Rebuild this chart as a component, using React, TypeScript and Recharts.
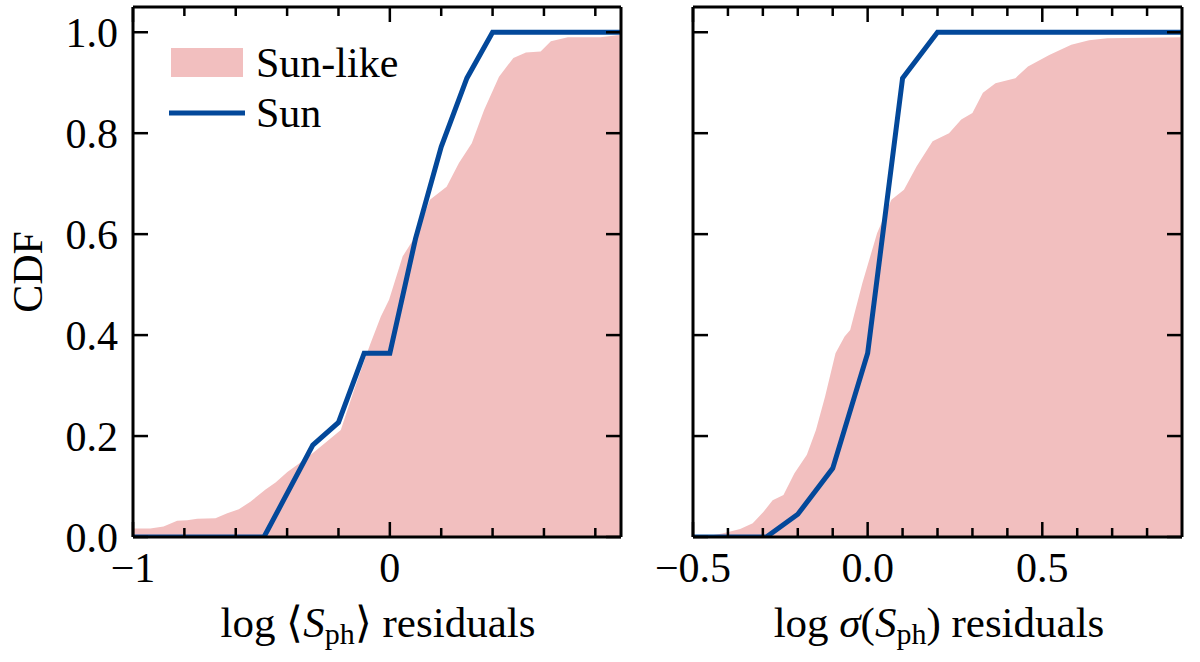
import React from 'react'
import { ComposedChart, Area, Line, XAxis, YAxis, ReferenceLine } from 'recharts'

const FONT = "'Liberation Serif', 'Times New Roman', serif"
const PINK = '#f2bfbf'
const BLUE = '#03489a'
const FS = 42

// left panel: log <S_ph> residuals
const likeMeanX = [-1, -0.933, -0.881, -0.828, -0.789, -0.75, -0.679, -0.633, -0.588, -0.543, -0.484, -0.445, -0.399, -0.36, -0.308, -0.257, -0.191, -0.14, -0.094, -0.075, -0.035, -0.003, 0.05, 0.107, 0.156, 0.221, 0.269, 0.319, 0.367, 0.425, 0.481, 0.53, 0.587, 0.627, 0.693, 0.82, 0.9]
const likeMeanY = [0.017, 0.017, 0.021, 0.032, 0.033, 0.036, 0.037, 0.047, 0.055, 0.07, 0.094, 0.108, 0.129, 0.143, 0.163, 0.184, 0.212, 0.29, 0.357, 0.384, 0.437, 0.47, 0.556, 0.602, 0.668, 0.694, 0.741, 0.78, 0.846, 0.912, 0.949, 0.96, 0.962, 0.982, 0.99, 0.99, 0.995]
const sunMeanX = [-1, -0.49, -0.3, -0.2, -0.1, 0, 0.1, 0.2, 0.3, 0.4, 0.9]
const sunMeanY = [0, 0, 0.182, 0.227, 0.364, 0.364, 0.591, 0.773, 0.909, 1, 1]

// right panel: log sigma(S_ph) residuals
const likeSigX = [-0.5, -0.45, -0.416, -0.365, -0.329, -0.298, -0.272, -0.241, -0.21, -0.174, -0.148, -0.122, -0.092, -0.066, -0.05, -0.015, 0.027, 0.068, 0.104, 0.14, 0.186, 0.233, 0.268, 0.3, 0.33, 0.366, 0.423, 0.459, 0.52, 0.583, 0.634, 0.686, 0.9]
const likeSigY = [0, 0.003, 0.007, 0.016, 0.027, 0.05, 0.073, 0.083, 0.126, 0.163, 0.212, 0.278, 0.364, 0.397, 0.41, 0.503, 0.602, 0.668, 0.688, 0.734, 0.784, 0.8, 0.827, 0.84, 0.88, 0.899, 0.909, 0.932, 0.955, 0.975, 0.984, 0.988, 0.99]
const sunSigX = [-0.5, -0.29, -0.2, -0.1, 0, 0.1, 0.2, 0.9]
const sunSigY = [0, 0, 0.045, 0.136, 0.364, 0.909, 1, 1]

const yTicks = [0, 0.2, 0.4, 0.6, 0.8, 1.0]
const yLabels = ['0.0', '0.2', '0.4', '0.6', '0.8', '1.0']
const Y_MAX = 1.05

const meanTicks = [-1, -0.8, -0.6, -0.4, -0.2, 0, 0.2, 0.4, 0.6, 0.8]
const meanMajors = [-1, 0]
const meanLabels = ['−1', '0']

const sigTicks = [-0.5, -0.4, -0.3, -0.2, -0.1, 0, 0.1, 0.2, 0.3, 0.4, 0.5, 0.6, 0.7, 0.8]
const sigMajors = [-0.5, 0, 0.5]
const sigLabels = ['−0.5', '0.0', '0.5']

const toPts = (xs: number[], ys: number[]) => xs.map((x, i) => ({ x, y: ys[i] }))

// plot area is 530px tall for 1.05 of CDF; tick lengths in px
const PX = Y_MAX / 530
const MAJOR = 15
const MINOR = 9

function makeXTick(majors: number[], labels: string[]) {
  return (props: any) => {
    const { x, y, payload } = props
    const mi = majors.indexOf(payload.value)
    const len = mi >= 0 ? MAJOR : MINOR
    return (
      <g>
        <line x1={x} y1={y} x2={x} y2={y - len} stroke="#000" strokeWidth={2.5} />
        {mi >= 0 && (
          <text x={x} y={y + 45} textAnchor="middle" fontFamily={FONT} fontSize={FS} fill="#000">{labels[mi]}</text>
        )}
      </g>
    )
  }
}

function makeYTick(side: 'left' | 'right', labels?: string[]) {
  return (props: any) => {
    const { x, y, payload } = props
    const i = yTicks.indexOf(payload.value)
    const x2 = side === 'left' ? x + MAJOR : x - MAJOR
    return (
      <g>
        <line x1={x} y1={y} x2={x2} y2={y} stroke="#000" strokeWidth={2.5} />
        {labels && i >= 0 && (
          <text x={x - 15} y={y} dy="0.35em" textAnchor="end" fontFamily={FONT} fontSize={FS} fill="#000">{labels[i]}</text>
        )}
      </g>
    )
  }
}

const frame = { stroke: '#000', strokeWidth: 3 }

interface PanelProps {
  like: { x: number; y: number }[]
  sun: { x: number; y: number }[]
  domain: [number, number]
  ticks: number[]
  majors: number[]
  labels: string[]
  showY: boolean
  width: number
  margin: { top: number; right: number; bottom: number; left: number }
}

function Panel({ like, sun, domain, ticks, majors, labels, showY, width, margin }: PanelProps) {
  return (
    <ComposedChart width={width} height={662} margin={margin}>
      <Area xAxisId="b" yAxisId="l" data={like} dataKey="y" type="linear" fill={PINK} fillOpacity={1} stroke="none" isAnimationActive={false} />
      <Line xAxisId="b" yAxisId="l" data={sun} dataKey="y" type="linear" stroke={BLUE} strokeWidth={5} dot={false} activeDot={false} isAnimationActive={false} />
      {/* inward ticks along the top edge */}
      {ticks.map((v) => (
        <ReferenceLine key={v} xAxisId="b" yAxisId="l" ifOverflow="visible" stroke="#000" strokeWidth={2.5}
          segment={[{ x: v, y: Y_MAX }, { x: v, y: Y_MAX - (majors.includes(v) ? MAJOR : MINOR) * PX }]} />
      ))}
      <XAxis xAxisId="b" dataKey="x" type="number" domain={domain} allowDataOverflow ticks={ticks} interval={0}
        height={1} tickSize={0} tickMargin={0} tickLine={false} axisLine={frame} tick={makeXTick(majors, labels)} />
      <XAxis xAxisId="t" orientation="top" dataKey="x" type="number" domain={domain} allowDataOverflow
        height={1} tickLine={false} axisLine={frame} tick={false} />
      <YAxis yAxisId="l" type="number" domain={[0, Y_MAX]} allowDataOverflow ticks={yTicks} interval={0} width={1}
        tickSize={0} tickMargin={0} tickLine={false} axisLine={frame} tick={makeYTick('left', showY ? yLabels : undefined)} />
      <YAxis yAxisId="r" orientation="right" type="number" domain={[0, Y_MAX]} allowDataOverflow ticks={yTicks} interval={0} width={1}
        tickSize={0} tickMargin={0} tickLine={false} axisLine={frame} tick={makeYTick('right')} />
    </ComposedChart>
  )
}

export default function App() {
  return (
    <div style={{ position: 'fixed', left: 0, top: 0, width: 1200, height: 662, background: '#fff' }}>
      <div style={{ position: 'absolute', left: 0, top: 0 }}>
        <Panel like={toPts(likeMeanX, likeMeanY)} sun={toPts(sunMeanX, sunMeanY)} domain={[-1, 0.9]}
          ticks={meanTicks} majors={meanMajors} labels={meanLabels} showY width={640}
          margin={{ top: 6, right: 18, bottom: 124, left: 132 }} />
      </div>
      <div style={{ position: 'absolute', left: 640, top: 0 }}>
        <Panel like={toPts(likeSigX, likeSigY)} sun={toPts(sunSigX, sunSigY)} domain={[-0.5, 0.9]}
          ticks={sigTicks} majors={sigMajors} labels={sigLabels} showY={false} width={560}
          margin={{ top: 6, right: 17, bottom: 124, left: 52 }} />
      </div>
      <svg width={1200} height={662} style={{ position: 'absolute', left: 0, top: 0, pointerEvents: 'none' }}
        fontFamily={FONT} fontSize={FS}>
        <text transform="translate(42,272) rotate(-90)" textAnchor="middle" fill="#000">CDF</text>
        <text x={378} y={637} textAnchor="middle" fontSize={43} fill="#000">
          <tspan>log ⟨</tspan><tspan fontStyle="italic">S</tspan>
          <tspan fontSize={30} dy={7}>ph</tspan><tspan dy={-7}>⟩ residuals</tspan>
        </text>
        <text x={939} y={637} textAnchor="middle" fontSize={43} fill="#000">
          <tspan>log </tspan><tspan fontStyle="italic">σ</tspan><tspan>(</tspan><tspan fontStyle="italic">S</tspan>
          <tspan fontSize={30} dy={7}>ph</tspan><tspan dy={-7}>) residuals</tspan>
        </text>
        <rect x={171} y={48} width={72} height={29} fill={PINK} />
        <text x={256} y={77} fill="#000">Sun-like</text>
        <line x1={169} x2={245} y1={113} y2={113} stroke={BLUE} strokeWidth={5} />
        <text x={256} y={127} fill="#000">Sun</text>
      </svg>
    </div>
  )
}
